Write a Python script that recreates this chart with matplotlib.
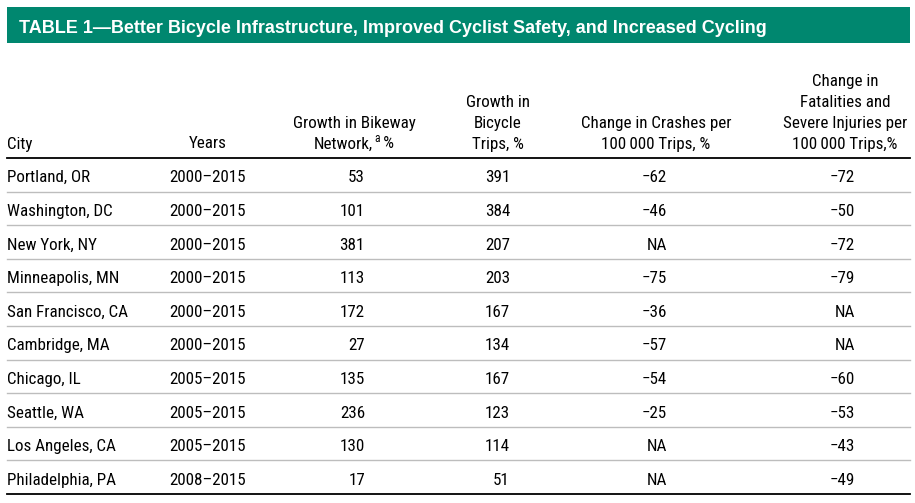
import matplotlib
matplotlib.use("Agg")
import matplotlib.pyplot as plt
from matplotlib import font_manager

title = "TABLE 1\u2014Better Bicycle Infrastructure, Improved Cyclist Safety, and Increased Cycling"

cities = ["Portland, OR", "Washington, DC", "New York, NY", "Minneapolis, MN",
          "San Francisco, CA", "Cambridge, MA", "Chicago, IL", "Seattle, WA",
          "Los Angeles, CA", "Philadelphia, PA"]
years = ["2000\u20132015"] * 6 + ["2005\u20132015"] * 3 + ["2008\u20132015"]
bikeway_growth = ["53", "101", "381", "113", "172", "27", "135", "236", "130", "17"]
trip_growth = ["391", "384", "207", "203", "167", "134", "167", "123", "114", "51"]
crash_change = ["\u221262", "\u221246", "NA", "\u221275", "\u221236", "\u221257",
                "\u221254", "\u221225", "NA", "NA"]
fatal_change = ["\u221272", "\u221250", "\u221272", "\u221279", "NA", "NA",
                "\u221260", "\u221253", "\u221243", "\u221249"]

names = {f.name for f in font_manager.fontManager.ttflist}
body_font = "Roboto"
for cand in ["Roboto Condensed", "Liberation Sans Narrow", "Open Sans Condensed",
             "Noto Sans Condensed", "Roboto"]:
    if cand in names:
        body_font = cand
        break

W, H = 915, 503
fig = plt.figure(figsize=(W / 100, H / 100), dpi=100)
ax = fig.add_axes([0, 0, 1, 1])
ax.set_xlim(0, W)
ax.set_ylim(H, 0)
ax.axis("off")
r = fig.canvas.get_renderer()

# size the body font from the width of a header line in the source (154 px)
probe = ax.text(0, 0, "Change in Crashes per", fontsize=10, family=body_font)
pw = probe.get_window_extent(r).width
probe.remove()
fs = min(13.5, 10 * 150 / pw)

teal = "#00876f"
ax.add_patch(plt.Rectangle((7, 7), 903, 36, color=teal, lw=0))
ax.text(19, 32.5, title, color="white", fontsize=13, fontweight="bold",
        family="Liberation Sans", va="baseline", ha="left")

txt = dict(fontsize=fs, family=body_font, va="baseline", color="black")

# column headers, last line baseline at y=148.5, 21px line spacing
line_h = 21
base_y = 148.5
headers = [
    (7, "left", ["City"]),
    (208, "center", ["Years"]),
    (498, "center", ["Growth in", "Bicycle", "Trips, %"]),
    (656, "center", ["Change in Crashes per", "100\u2009000 Trips, %"]),
    (845, "center", ["Change in", "Fatalities and", "Severe Injuries per", "100\u2009000 Trips,%"]),
]
for x, ha, lines in headers:
    for i, s in enumerate(reversed(lines)):
        ax.text(x, base_y - i * line_h, s, ha=ha, **txt)

# bikeway header with superscript a
ax.text(354, base_y - line_h, "Growth in Bikeway", ha="center", **txt)
p1 = ax.text(0, base_y, "Network,", ha="left", **txt)
p2 = ax.text(0, base_y - 6, "a", ha="left", fontsize=fs * 0.68, family=body_font,
             va="baseline", color="black")
p3 = ax.text(0, base_y, "\u2009%", ha="left", **txt)
w1 = p1.get_window_extent(r).width
w2 = p2.get_window_extent(r).width
w3 = p3.get_window_extent(r).width
x0 = 354 - (w1 + w2 + w3 + 1) / 2
p1.set_x(x0)
p2.set_x(x0 + w1 + 1)
p3.set_x(x0 + w1 + w2 + 1)

top_rule = 158
row_h = 33.6
ax.plot([7, 910], [top_rule, top_rule], color="black", lw=1.3)
for i in range(len(cities)):
    yb = top_rule + row_h * (i + 0.5) + 7.5
    ax.text(7, yb, cities[i], ha="left", **txt)
    ax.text(207.5, yb, years[i], ha="center", **txt)
    ax.text(365, yb, bikeway_growth[i], ha="right", **txt)
    ax.text(510, yb, trip_growth[i], ha="right", **txt)
    ax.text(667, yb, crash_change[i], ha="right", **txt)
    ax.text(855, yb, fatal_change[i], ha="right", **txt)
    yl = top_rule + row_h * (i + 1)
    if i < len(cities) - 1:
        ax.plot([7, 910], [yl, yl], color="#bdbdbd", lw=1.0)
    else:
        ax.plot([7, 910], [yl, yl], color="black", lw=1.3)

fig.savefig("out.png", dpi=100)
